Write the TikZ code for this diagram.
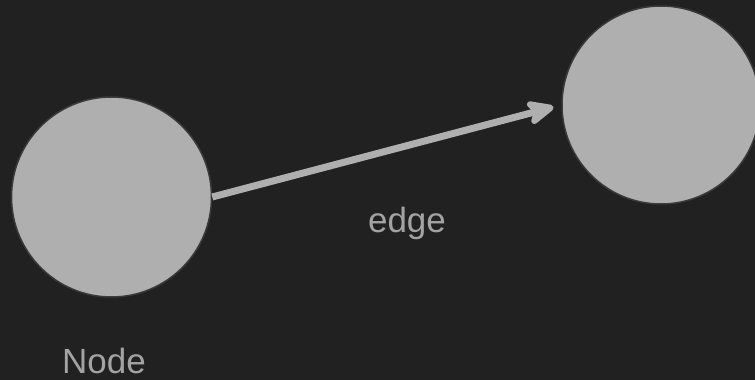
\documentclass[tikz,border=0pt]{standalone}
\usepackage{fontspec}
\setmainfont{Liberation Sans}
\usetikzlibrary{arrows.meta}
\definecolor{bg}{HTML}{212121}
\definecolor{nodefill}{HTML}{AFAFAF}
\definecolor{nodeline}{HTML}{3A3A3A}
\definecolor{txt}{HTML}{A3A3A3}
\tikzset{
  vertex/.style={circle,fill=nodefill,draw=nodeline,line width=1.5pt,minimum size=200pt,inner sep=0pt},
  edgeline/.style={draw=nodefill,line width=7pt,arrows={-Stealth[length=34pt 0 0,width=30pt 0 0,inset=9pt 0,line join=round,line cap=round]}},
  lbl/.style={text=txt,font=\fontsize{35}{42}\selectfont,anchor=base,inner sep=0pt}}
\begin{document}
\begin{tikzpicture}[x=1pt,y=1pt]
\fill[bg] (0,0) rectangle (755,380);
\useasboundingbox (0,0) rectangle (755,380);
\begin{scope}
\clip (0,0) rectangle (755,380);
\node[vertex] (c1) at (111.5,183) {};
\node[vertex,minimum size=198pt] (c2) at (661,275) {};
\end{scope}
\path[edgeline,shorten >=8pt] (c1.east) -- (c2.west);
\node[lbl] (e) at (407,147) {edge};
\node[lbl] (n) at (104,6) {Node};
\end{tikzpicture}
\end{document}
